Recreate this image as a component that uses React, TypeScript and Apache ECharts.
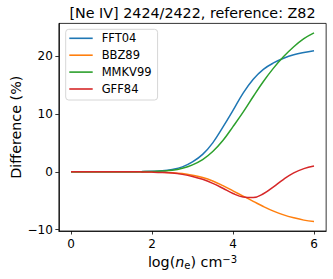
import React, { useEffect, useRef } from "react";
import * as echarts from "echarts";

const xs = [0, 0.25, 0.5, 0.75, 1, 1.25, 1.5, 1.75, 2, 2.25, 2.5, 2.75, 3, 3.25, 3.5, 3.75, 4, 4.25, 4.5, 4.75, 5, 5.25, 5.5, 5.75, 6];
const fft04 = [0, 0, 0, 0, 0, 0, 0.01, 0.03, 0.07, 0.16, 0.4, 0.85, 1.7, 3.0, 5.0, 7.7, 10.6, 13.6, 16.0, 17.7, 18.8, 19.6, 20.2, 20.6, 20.9];
const bbz89 = [0, 0, 0, 0, 0, 0, 0, -0.02, -0.05, -0.1, -0.15, -0.3, -0.6, -1.0, -1.6, -2.4, -3.3, -4.2, -5.1, -6.0, -6.8, -7.45, -7.95, -8.35, -8.6];
const mmkv99 = [0, 0, 0, 0, 0, 0, 0, 0.02, 0.05, 0.12, 0.25, 0.6, 1.2, 2.1, 3.5, 5.4, 7.8, 10.3, 13.0, 15.6, 17.9, 19.9, 21.6, 23.0, 24.0];
const gff84 = [0, 0, 0, 0, 0, 0, 0, -0.02, -0.06, -0.12, -0.22, -0.45, -0.8, -1.3, -2.0, -2.85, -3.75, -4.35, -4.45, -3.8, -2.6, -1.3, -0.2, 0.55, 1.0];

const seriesNames = ["FFT04", "BBZ89", "MMKV99", "GFF84"];
const seriesValues = [fft04, bbz89, mmkv99, gff84];
const colors = ["#1f77b4", "#ff7f0e", "#2ca02c", "#d62728"];
const xTicks = [0, 2, 4, 6];
const yTicks = [-10, 0, 10, 20];
const title = "[Ne IV] 2424/2422, reference: Z82";
const yTitle = "Difference (%)";

const FONT = "DejaVu Sans";

export default function App() {
  const ref = useRef<HTMLDivElement>(null);
  useEffect(() => {
    if (!ref.current) return;
    const chart = echarts.init(ref.current, null, { renderer: "svg" });
    const gridLeft = 58.85;
    const gridRight = 6.85;
    const gridTop = 23.4;
    const gridBottom = 48;
    const plotCx = gridLeft + (333 - gridLeft - gridRight) / 2;
    const plotCy = gridTop + (279 - gridTop - gridBottom) / 2;
    chart.setOption({
      animation: false,
      grid: {
        left: gridLeft,
        right: gridRight,
        top: gridTop,
        bottom: gridBottom,
        show: true,
        borderColor: "#000",
        borderWidth: 0.8,
        backgroundColor: "transparent",
      },
      legend: {
        orient: "vertical",
        left: 65.7,
        top: 29.3,
        icon: "rect",
        itemWidth: 23.4,
        itemHeight: 1.6,
        itemGap: 2.9,
        padding: [2, 6, 4, 3.6],
        borderColor: "#cccccc",
        borderWidth: 0.8,
        borderRadius: 3,
        backgroundColor: "rgba(255,255,255,0.8)",
        textStyle: {
          fontFamily: FONT,
          fontSize: 11.5,
          color: "#000",
          lineHeight: 14,
          padding: [0, 0, 0, 4],
        },
        data: seriesNames,
      },
      xAxis: {
        type: "value",
        min: -0.3,
        max: 6.3,
        axisLine: { show: true, onZero: false, lineStyle: { color: "#000", width: 0.8 } },
        axisTick: { show: true, length: 3.5, lineStyle: { color: "#000", width: 0.8 }, customValues: xTicks },
        axisLabel: { show: true, customValues: xTicks, color: "#000", fontFamily: FONT, fontSize: 12, margin: 6.5 },
        splitLine: { show: false },
      },
      yAxis: {
        type: "value",
        min: -10.23,
        max: 25.63,
        axisLine: { show: true, onZero: false, lineStyle: { color: "#000", width: 0.8 } },
        axisTick: { show: true, length: 3.5, lineStyle: { color: "#000", width: 0.8 }, customValues: yTicks },
        axisLabel: {
          show: true,
          customValues: yTicks,
          color: "#000",
          fontFamily: FONT,
          fontSize: 12,
          margin: 6,
          formatter: (v: number) => (v < 0 ? "\u2212" + Math.abs(v) : String(v)),
        },
        splitLine: { show: false },
      },
      series: seriesNames.map((name, i) => ({
        name,
        type: "line",
        data: xs.map((x, j) => [x, seriesValues[i][j]]),
        showSymbol: false,
        smooth: 0.4,
        lineStyle: { color: colors[i], width: 1.5 },
        itemStyle: { color: colors[i] },
      })),
      graphic: [
        {
          type: "text",
          x: plotCx,
          y: 13,
          style: {
            text: title,
            fontFamily: FONT,
            fontSize: 14.3,
            fill: "#000",
            align: "center",
            verticalAlign: "middle",
          },
        },
        {
          type: "text",
          x: 16,
          y: plotCy,
          rotation: Math.PI / 2,
          style: {
            text: yTitle,
            fontFamily: FONT,
            fontSize: 14.3,
            fill: "#000",
            align: "center",
            verticalAlign: "middle",
          },
        },
        {
          type: "text",
          x: plotCx,
          y: 262.4,
          style: {
            text: "{a|log(}{n|n}{s|e}{a|) cm}{p|\u22123}",
            fontFamily: FONT,
            fontSize: 14.3,
            fill: "#000",
            align: "center",
            verticalAlign: "middle",
            rich: {
              a: { fontFamily: FONT, fontSize: 14.3, lineHeight: 16, fill: "#000" },
              n: { fontFamily: FONT, fontSize: 14.3, lineHeight: 16, fontStyle: "italic", fill: "#000" },
              s: { fontFamily: FONT, fontSize: 10, lineHeight: 10, verticalAlign: "bottom", fill: "#000" },
              p: { fontFamily: FONT, fontSize: 10, lineHeight: 10, verticalAlign: "top", fill: "#000" },
            },
          },
        },
      ],
    });
    return () => chart.dispose();
  }, []);
  return <div ref={ref} style={{ width: 333, height: 279, position: "absolute", left: 0, top: 0 }} />;
}
